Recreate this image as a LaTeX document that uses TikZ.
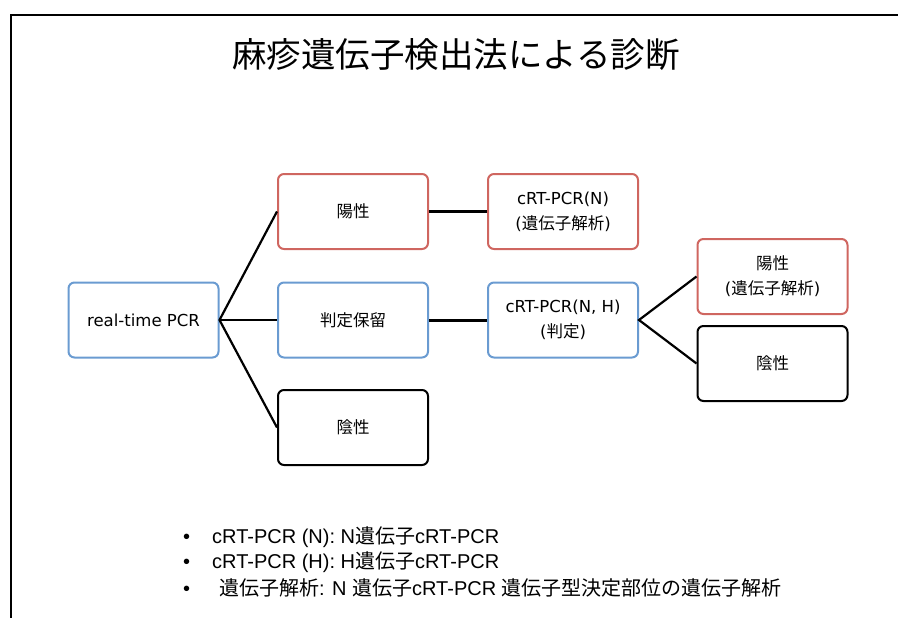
\documentclass[tikz,border=0pt]{standalone}
\usepackage{fontspec}
\setmainfont{DejaVu Sans}
\newfontfamily\jp{Noto Sans CJK JP}
\newfontfamily\lib{Liberation Sans}
\definecolor{boxred}{HTML}{CF6660}
\definecolor{boxblue}{HTML}{6A9BD1}
\begin{document}
\begin{tikzpicture}[x=1pt,y=-1pt,
  box/.style={draw,rounded corners=6pt,line width=2pt,minimum width=150pt,minimum height=75pt,align=center,font=\fontsize{16.5}{25}\selectfont,inner sep=0pt},
  redbox/.style={box,draw=boxred},
  bluebox/.style={box,draw=boxblue},
  blackbox/.style={box,draw=black},
  conn/.style={line width=2.2pt},
  item/.style={anchor=west,font=\lib\fontsize{20}{22}\selectfont,inner sep=0pt}]
\useasboundingbox (0,0) rectangle (898,618);
\draw[line width=2.2pt] (898,15) -- (11,15) -- (11,618);
\node[font=\jp\fontsize{34.5}{38}\selectfont] (title) at (456,55) {麻疹遺伝子検出法による診断};
\node[bluebox] (rt) at (143.5,320) {real-time PCR};
\node[redbox] (pos) at (353,211.5) {{\jp 陽性}};
\node[bluebox] (hold) at (353,320) {{\jp 判定保留}};
\node[blackbox] (neg) at (353,427.5) {{\jp 陰性}};
\node[redbox] (crtn) at (563,211.5) {cRT-PCR(N)\\({\jp 遺伝子解析})};
\node[bluebox] (crtnh) at (563,320) {cRT-PCR(N, H)\\({\jp 判定})};
\node[redbox] (pos2) at (772.5,276.5) {{\jp 陽性}\\({\jp 遺伝子解析})};
\node[blackbox] (neg2) at (772.5,363.5) {{\jp 陰性}};
\draw[conn] (pos.west) -- (rt.east) -- (neg.west);
\draw[conn] (rt.east) -- (hold.west);
\draw[conn] (pos.east) -- (crtn.west);
\draw[line width=3pt] (hold.east) -- (crtnh.west);
\draw[conn] (pos2.west) -- (crtnh.east) -- (neg2.west);
\node[item] (b1) at (183,537) {\makebox[29pt][l]{•}cRT-PCR (N): N{\jp 遺伝子}cRT-PCR};
\node[item] (b2) at (183,562) {\makebox[29pt][l]{•}cRT-PCR (H): H{\jp 遺伝子}cRT-PCR};
\node[item] (b3) at (183,588) {\makebox[36pt][l]{•}{\jp 遺伝子解析}: N {\jp 遺伝子}cRT-PCR {\jp 遺伝子型決定部位の遺伝子解析}};
\end{tikzpicture}
\end{document}
